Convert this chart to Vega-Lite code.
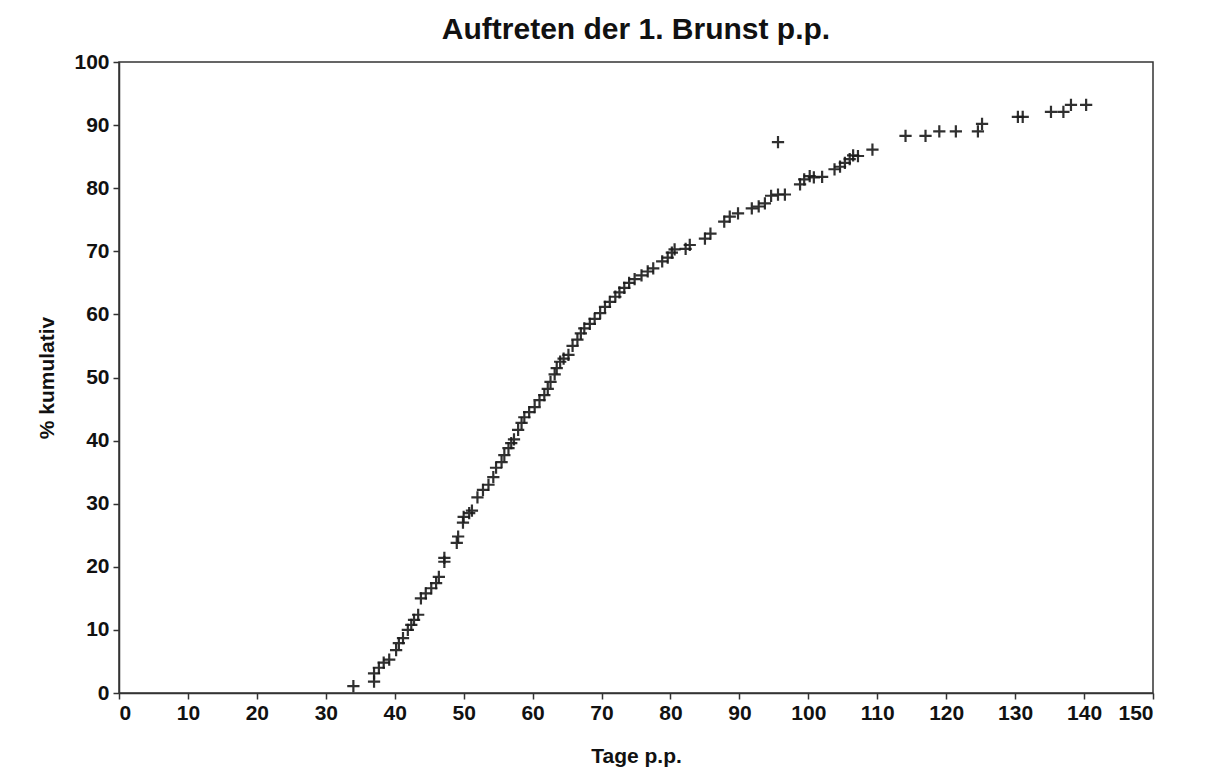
{
  "$schema": "https://vega.github.io/schema/vega-lite/v6.json",
  "width": 1034,
  "height": 631,
  "autosize": {"type": "none"},
  "padding": {"left": 119, "top": 62, "right": 63, "bottom": 90},
  "background": "white",
  "title": {"text": "Auftreten der 1. Brunst p.p.", "font": "Liberation Sans", "fontSize": 30, "fontWeight": "bold", "color": "#111", "anchor": "middle", "offset": 6},
  "config": {
    "view": {"stroke": "#333", "strokeWidth": 1.5},
    "axis": {"grid": false, "domainColor": "#333", "domainWidth": 1.5, "tickColor": "#333", "tickWidth": 1.5, "tickSize": 6,
      "labelFont": "Liberation Sans", "labelFontSize": 21, "labelFontWeight": "bold", "labelColor": "#111",
      "titleFont": "Liberation Sans", "titleFontSize": 21, "titleFontWeight": "bold", "titleColor": "#111"}
  },
  "data": {"values": [
    {"tage":34,"pct":1.1},{"tage":37,"pct":1.8},{"tage":37,"pct":3.1},{"tage":37.7,"pct":4},{"tage":38.4,"pct":4.8},{"tage":39.2,"pct":5.3},
    {"tage":40.2,"pct":6.8},{"tage":40.6,"pct":7.9},{"tage":41.2,"pct":8.7},{"tage":41.9,"pct":10},{"tage":42.4,"pct":10.8},{"tage":42.8,"pct":11.6},
    {"tage":43.4,"pct":12.4},{"tage":43.8,"pct":15},{"tage":44.5,"pct":15.8},{"tage":45.3,"pct":16.6},{"tage":46,"pct":17.4},{"tage":46.4,"pct":18.4},
    {"tage":47.2,"pct":20.8},{"tage":47.2,"pct":21.4},{"tage":49,"pct":23.8},{"tage":49.2,"pct":24.8},{"tage":49.9,"pct":27},{"tage":50,"pct":27.9},
    {"tage":50.8,"pct":28.5},{"tage":51.2,"pct":28.9},{"tage":52,"pct":31},{"tage":52.8,"pct":32.2},{"tage":53.6,"pct":33},{"tage":54.3,"pct":34.2},
    {"tage":54.7,"pct":35.7},{"tage":55.5,"pct":36.6},{"tage":55.9,"pct":37.7},{"tage":56.5,"pct":38.8},{"tage":56.9,"pct":39.6},{"tage":57.3,"pct":40.2},
    {"tage":57.9,"pct":41.7},{"tage":58.4,"pct":42.8},{"tage":58.8,"pct":43.7},{"tage":59.5,"pct":44.5},{"tage":60.3,"pct":45.3},{"tage":61,"pct":46.4},
    {"tage":61.7,"pct":47.2},{"tage":62.2,"pct":48.2},{"tage":62.6,"pct":49.3},{"tage":63.2,"pct":50.5},{"tage":63.5,"pct":51.5},{"tage":64,"pct":52.5},
    {"tage":64.5,"pct":53},{"tage":65.2,"pct":53.6},{"tage":65.8,"pct":55},{"tage":66.5,"pct":56},{"tage":67,"pct":57},{"tage":67.5,"pct":57.8},
    {"tage":68.3,"pct":58.5},{"tage":69,"pct":59.3},{"tage":69.8,"pct":60.2},{"tage":70.5,"pct":61.2},{"tage":71.2,"pct":62},{"tage":72,"pct":62.8},
    {"tage":72.6,"pct":63.5},{"tage":73.3,"pct":64.2},{"tage":74,"pct":65},{"tage":74.8,"pct":65.6},{"tage":75.8,"pct":66.2},{"tage":76.7,"pct":66.8},
    {"tage":77.5,"pct":67.3},{"tage":78.8,"pct":68.4},{"tage":79.6,"pct":69},{"tage":80.2,"pct":69.8},{"tage":80.6,"pct":70.3},{"tage":82.2,"pct":70.4},
    {"tage":82.8,"pct":71},{"tage":85,"pct":72},{"tage":85.8,"pct":72.8},{"tage":87.8,"pct":74.7},{"tage":88.6,"pct":75.5},{"tage":89.8,"pct":76},
    {"tage":91.8,"pct":76.8},{"tage":92.8,"pct":77.1},{"tage":93.7,"pct":77.6},{"tage":94.6,"pct":78.8},{"tage":95.6,"pct":79},{"tage":96.6,"pct":79},
    {"tage":95.6,"pct":87.3},{"tage":98.8,"pct":80.6},{"tage":99.4,"pct":81.4},{"tage":100.2,"pct":81.9},{"tage":100.8,"pct":81.7},{"tage":102,"pct":81.8},
    {"tage":103.8,"pct":83},{"tage":104.6,"pct":83.4},{"tage":105.3,"pct":84},{"tage":106,"pct":84.6},{"tage":106.5,"pct":85.2},{"tage":107.2,"pct":85.1},
    {"tage":109.3,"pct":86.1},{"tage":114.1,"pct":88.3},{"tage":117,"pct":88.3},{"tage":119,"pct":89},{"tage":121.4,"pct":89},{"tage":124.6,"pct":89},
    {"tage":125.2,"pct":90.2},{"tage":130.4,"pct":91.3},{"tage":131.1,"pct":91.3},{"tage":135.2,"pct":92.1},{"tage":137,"pct":92.1},{"tage":138.1,"pct":93.2},
    {"tage":140.3,"pct":93.2}
  ]},
  "mark": {"type": "point", "shape": "M-1,0H1M0,-1V1", "filled": false, "stroke": "#1a1a1a", "strokeWidth": 2.2, "size": 150, "opacity": 0.9},
  "encoding": {
    "x": {"field": "tage", "type": "quantitative", "scale": {"domain": [0, 150], "nice": false, "zero": true},
      "axis": {"title": "Tage p.p.", "values": [0,10,20,30,40,50,60,70,80,90,100,110,120,130,140,150], "labelPadding": 3, "titlePadding": 22}},
    "y": {"field": "pct", "type": "quantitative", "scale": {"domain": [0, 100], "nice": false},
      "axis": {"title": "% kumulativ", "values": [0,10,20,30,40,50,60,70,80,90,100], "labelPadding": 4, "titlePadding": 16}}
  }
}
